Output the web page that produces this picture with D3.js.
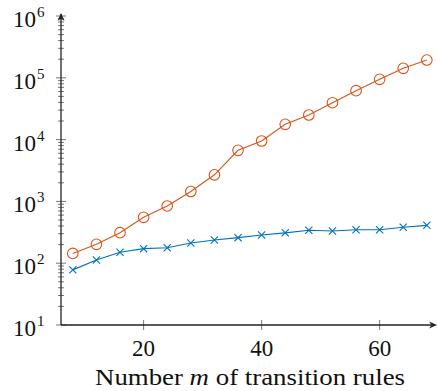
<!DOCTYPE html>
<html>
<head>
<meta charset="utf-8">
<script src="https://cdn.jsdelivr.net/npm/d3@7"></script>
<style>
  html, body { margin: 0; padding: 0; background: #fff; }
  svg { display: block; }
  text { font-family: "Liberation Serif", "DejaVu Serif", serif; fill: #111; }
</style>
</head>
<body>
<svg id="chart" width="437" height="391"></svg>
<script>
// ---- data ----
const ruleCounts = [8, 12, 16, 20, 24, 28, 32, 36, 40, 44, 48, 52, 56, 60, 64, 68];
const seriesCircle = [144, 202, 312, 553, 843, 1446, 2693, 6714, 9490, 17700, 25000, 39500, 61900, 94600, 142500, 194000];
const seriesCross = [78, 113, 150, 172, 178, 212, 237, 259, 286, 310, 341, 332, 348, 348, 381, 410];
const xTickValues = [20, 40, 60];
const yTickExponents = [1, 2, 3, 4, 5, 6];
const xLabel = ["Number ", "m", " of transition rules"];

const colorCircle = "#D95319";
const colorCross = "#0072BD";

const svg = d3.select("#chart");
const x = d3.scaleLinear().domain([6, 69.5]).range([61, 435.7]);
const y = d3.scaleLog().domain([10, 1e6]).range([325, 16]);

const axisColor = "#222";

// y minor ticks
const minor = [];
for (let e = 1; e < 6; e++) for (let m = 2; m <= 9; m++) minor.push(m * Math.pow(10, e));
svg.append("g").selectAll("line").data(minor).join("line")
  .attr("x1", x(6) - 3).attr("x2", x(6) + 3)
  .attr("y1", d => y(d)).attr("y2", d => y(d))
  .attr("stroke", "#555").attr("stroke-width", 0.8);

// y major ticks
svg.append("g").selectAll("line").data(yTickExponents).join("line")
  .attr("x1", x(6) - 5).attr("x2", x(6) + 5)
  .attr("y1", d => y(Math.pow(10, d))).attr("y2", d => y(Math.pow(10, d)))
  .attr("stroke", "#555").attr("stroke-width", 0.8);

// x major ticks
svg.append("g").selectAll("line").data(xTickValues).join("line")
  .attr("x1", d => x(d)).attr("x2", d => x(d))
  .attr("y1", y(10) - 5).attr("y2", y(10) + 5)
  .attr("stroke", "#555").attr("stroke-width", 0.8);

// axis lines
svg.append("line").attr("x1", x(6)).attr("x2", x(6)).attr("y1", y(10)).attr("y2", 14)
  .attr("stroke", axisColor).attr("stroke-width", 1.3);
svg.append("line").attr("x1", x(6)).attr("x2", 435).attr("y1", y(10)).attr("y2", y(10))
  .attr("stroke", axisColor).attr("stroke-width", 1.3);
// arrow heads
svg.append("path")
  .attr("d", `M${x(6)},13 L${x(6) - 3.5},21 L${x(6)},18.5 L${x(6) + 3.5},21 Z`)
  .attr("fill", axisColor);
svg.append("path")
  .attr("d", `M437,${y(10)} L429,${y(10) - 3.5} L431.5,${y(10)} L429,${y(10) + 3.5} Z`)
  .attr("fill", axisColor);

// y tick labels
const yl = svg.append("g").selectAll("text").data(yTickExponents).join("text")
  .attr("x", 36).attr("y", d => y(Math.pow(10, d)) + 11)
  .attr("text-anchor", "end").style("font-size", "23px");
yl.text("10");
svg.append("g").selectAll("text").data(yTickExponents).join("text")
  .attr("x", 37).attr("y", d => y(Math.pow(10, d)) + 1)
  .style("font-size", "15px").text(d => d);

// x tick labels
svg.append("g").selectAll("text").data(xTickValues).join("text")
  .attr("x", d => x(d)).attr("y", 356)
  .attr("text-anchor", "middle").style("font-size", "23px")
  .text(d => d);

// x axis label
const lab = svg.append("text").attr("x", 250).attr("y", 385)
  .attr("text-anchor", "middle").style("font-size", "23px")
  .attr("textLength", 310).attr("lengthAdjust", "spacingAndGlyphs");
lab.append("tspan").text(xLabel[0]);
lab.append("tspan").style("font-style", "italic").text(xLabel[1]);
lab.append("tspan").text(xLabel[2]);

// lines
const line = d3.line().x(d => x(d[0])).y(d => y(d[1]));
const circleData = ruleCounts.map((r, i) => [r, seriesCircle[i]]);
const crossData = ruleCounts.map((r, i) => [r, seriesCross[i]]);

svg.append("path").datum(circleData).attr("d", line)
  .attr("fill", "none").attr("stroke", colorCircle).attr("stroke-width", 1.1);
svg.append("path").datum(crossData).attr("d", line)
  .attr("fill", "none").attr("stroke", colorCross).attr("stroke-width", 1.1);

// circle markers
svg.append("g").selectAll("circle").data(circleData).join("circle")
  .attr("cx", d => x(d[0])).attr("cy", d => y(d[1])).attr("r", 5.3)
  .attr("fill", "none").attr("stroke", colorCircle).attr("stroke-width", 1.1);

// cross markers
const s = 3.6;
svg.append("g").selectAll("path").data(crossData).join("path")
  .attr("d", d => {
    const cx = x(d[0]), cy = y(d[1]);
    return `M${cx - s},${cy - s}L${cx + s},${cy + s}M${cx - s},${cy + s}L${cx + s},${cy - s}`;
  })
  .attr("fill", "none").attr("stroke", colorCross).attr("stroke-width", 1.1);
</script>
</body>
</html>
